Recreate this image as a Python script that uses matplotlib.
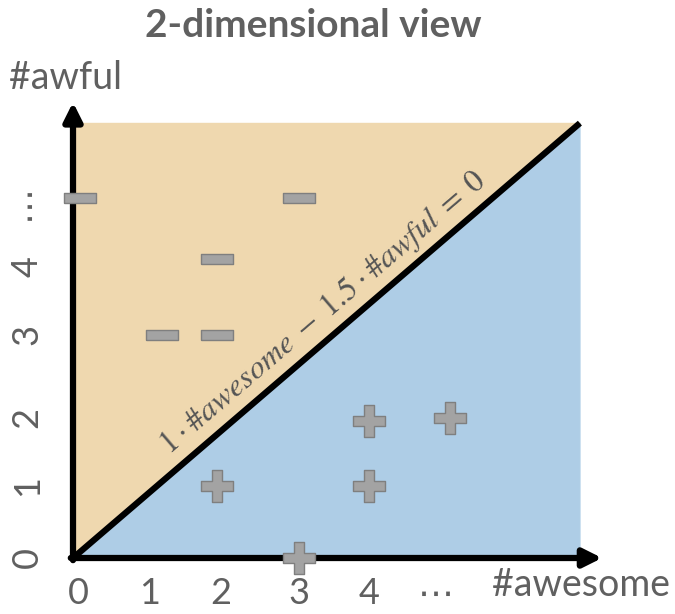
import numpy as np
import matplotlib.pyplot as plt

plt.rcParams['font.family'] = ['Lato', 'DejaVu Sans']
plt.rcParams['mathtext.fontset'] = 'stix'

# data
minus_x = [0.1, 1.2, 1.95, 1.95, 3.05]
minus_y = [5.0, 3.1, 3.1, 4.15, 5.0]
plus_x = [1.95, 3.05, 4.0, 4.0, 5.1]
plus_y = [1.0, 0.0, 1.0, 1.9, 1.95]

xtick_pos = [0.07, 1.03, 2.0, 3.05, 4.0, 4.9]
xtick_labels = ['0', '1', '2', '3', '4', '⋯']
ytick_pos = [0.0, 1.0, 1.95, 3.1, 4.05, 4.95]
ytick_labels = ['0', '1', '2', '3', '4', '⋯']

x_end, y_end = 6.85, 6.04

orange = '#EFD8AF'
blue = '#AECDE6'
gray = '#606060'

fig = plt.figure(figsize=(6.75, 6.14), dpi=100)
ax = fig.add_axes([0, 0, 1, 1])
ax.set_xlim(-73 / 74, 602 / 74)
ax.set_ylim(-56 / 72, 558 / 72)
ax.axis('off')

# two half planes
ax.fill([0, 0, x_end], [0, y_end, y_end], color=orange, zorder=1)
ax.fill([0, x_end, x_end], [0, y_end, 0], color=blue, zorder=1)

# decision boundary
ax.plot([0, x_end], [0, y_end], color='black', lw=4.5, zorder=3, solid_capstyle='butt')

# axes arrows
ax.annotate('', xy=(0, 6.33), xytext=(0, -0.03),
            arrowprops=dict(arrowstyle='-|>,head_length=1.1,head_width=0.55', lw=4.5,
                            color='black', shrinkA=0, shrinkB=0), zorder=4)
ax.annotate('', xy=(7.15, 0), xytext=(-0.03, 0),
            arrowprops=dict(arrowstyle='-|>,head_length=1.1,head_width=0.55', lw=4.5,
                            color='black', shrinkA=0, shrinkB=0), zorder=4)

# tick labels
for p, t in zip(xtick_pos, xtick_labels):
    ax.text(p, -0.5, t, ha='center', va='center', fontsize=26, color=gray)
for p, t in zip(ytick_pos, ytick_labels):
    ax.text(-0.62, p, t, ha='center', va='center', fontsize=26, color=gray, rotation=90)

ax.text(8.07, -0.37, '#awesome', ha='right', va='center', fontsize=27, color=gray)
ax.text(-0.87, 6.67, '#awful', ha='left', va='center', fontsize=27, color=gray)
ax.text(3.25, 7.4, '2-dimensional view', ha='center', va='center', fontsize=28,
        color=gray, fontweight='bold')

# equation along the line
eq = r'$1\cdot$#$awesome\;-\;1.5\cdot$#$awful\;=\;0$'
ax.text(3.38, 3.4, eq, ha='center', va='center', family='STIXGeneral',
        rotation=40.5, rotation_mode='anchor', fontsize=23, color='#555555', zorder=5)

# markers
minus_marker = [(-1, -0.3), (1, -0.3), (1, 0.3), (-1, 0.3), (-1, -0.3)]
ax.scatter(minus_x, minus_y, marker=minus_marker, s=23 ** 2, color='#a3a3a3',
           edgecolor='#7f7f7f', linewidth=1, zorder=6)
ax.scatter(plus_x, plus_y, marker='P', s=23 ** 2, color='#a3a3a3',
           edgecolor='#7f7f7f', linewidth=1, zorder=6)

fig.savefig('out.png', dpi=100)
